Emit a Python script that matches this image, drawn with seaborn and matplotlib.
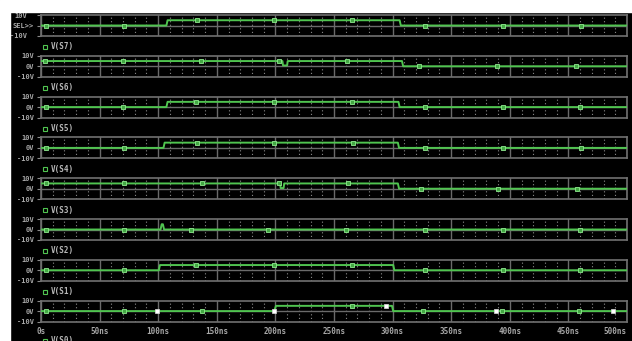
"""Digital simulation traces (PSpice-style probe window), eight stacked waveforms."""

import matplotlib.pyplot as plt
import numpy as np
import seaborn as sns
from matplotlib.lines import Line2D
from matplotlib.patches import Rectangle
from matplotlib.ticker import FixedLocator, MultipleLocator

W, H = 632, 341

TIME_TICKS = [0, 50, 100, 150, 200, 250, 300, 350, 400, 450, 500]
TIME_LABELS = ["0s", "50ns", "100ns", "150ns", "200ns", "250ns",
               "300ns", "350ns", "400ns", "450ns", "500ns"]
VOLT_TICKS = [-10, 0, 10]
VOLT_LABELS = ["-10V", "0V", "10V"]

SIGNALS = ["V(S7)", "V(S6)", "V(S5)", "V(S4)", "V(S3)", "V(S2)", "V(S1)", "V(S0)"]

# breakpoints (ns, V)
S7_T = [0, 107, 108, 306, 307, 500]
S7_V = [0, 0, 5, 5, 0, 0]
S6_T = [0, 206, 206.5, 210, 210.5, 308, 309, 500]
S6_V = [5, 5, 0.8, 0.8, 5, 5, 0, 0]
S5_T = [0, 107, 108, 305, 306, 500]
S5_V = [0, 0, 5, 5, 0, 0]
S4_T = [0, 104.5, 105.5, 304.5, 305.5, 500]
S4_V = [0, 0, 5, 5, 0, 0]
S3_T = [0, 204, 204.5, 207, 207.5, 304.5, 305.5, 500]
S3_V = [5, 5, 0.6, 0.6, 5, 5, 0, 0]
S2_T = [0, 102, 103, 104, 105, 500]
S2_V = [0, 0, 5, 5, 0, 0]
S1_T = [0, 100.5, 101.5, 300.5, 301.5, 500]
S1_V = [0, 0, 5, 5, 0, 0]
S0_T = [0, 199, 200.5, 299.5, 300.5, 500]
S0_V = [0, 0, 5, 5, 0, 0]

# trace symbol positions (ns)
S7_MARKS = [4, 71, 133, 199, 265, 328, 394, 461]
S6_MARKS = [3.5, 70, 136.5, 203, 261, 322.5, 389, 456.5]
S5_MARKS = [4, 70, 132, 199, 265, 328, 394, 460]
S4_MARKS = [4, 71, 133, 199, 266, 328, 394, 461]
S3_MARKS = [4, 71, 137, 203, 262, 324, 390, 457]
S2_MARKS = [4, 71, 128, 194, 260, 328, 394, 460]
S1_MARKS = [4, 71, 132, 199, 265, 328, 394, 460]
S0_MARKS = [4, 71, 137, 265, 326, 393, 459]
S0_CURSORS = [99, 199, 294, 388, 488]

GREEN = "#50c450"
MARK_FACE = "#43a843"
MARK_EDGE = "#8fe88f"
GRID = "#6a6a6a"
TEXT = "#a8a8a8"


def px_box(left, top, right, bottom):
    return [left / W, 1 - bottom / H, (right - left) / W, (bottom - top) / H]


sns.set_theme(style="dark", rc={"axes.facecolor": "black", "figure.facecolor": "black"})
plt.rcParams["font.family"] = ["DejaVu Sans Mono", "DejaVu Sans"]
plt.rcParams["font.weight"] = "bold"

traces = [
    (S7_T, S7_V, S7_MARKS), (S6_T, S6_V, S6_MARKS), (S5_T, S5_V, S5_MARKS),
    (S4_T, S4_V, S4_MARKS), (S3_T, S3_V, S3_MARKS), (S2_T, S2_V, S2_MARKS),
    (S1_T, S1_V, S1_MARKS), (S0_T, S0_V, S0_MARKS),
]

fig = plt.figure(figsize=(W / 100, H / 100), dpi=100)
fig.patch.set_facecolor("black")

for i, (name, (t, v, marks)) in enumerate(zip(SIGNALS, traces)):
    top = 15 + i * 40.8
    ax = fig.add_axes(px_box(41, top, 627, top + 21))
    ax.set_facecolor("black")
    ax.set_axisbelow(True)

    sns.lineplot(x=t, y=v, ax=ax, color=GREEN, lw=1.4, estimator=None, sort=False, zorder=3)
    sns.scatterplot(x=marks, y=np.interp(marks, t, v), ax=ax, marker="s", s=10,
                    color=MARK_FACE, edgecolor=MARK_EDGE, linewidth=0.6, zorder=4)
    if name == "V(S0)":
        sns.scatterplot(x=S0_CURSORS, y=np.interp(S0_CURSORS, t, v), ax=ax, marker="s", s=10,
                        color="white", edgecolor="#dddddd", linewidth=0.5, zorder=5)

    ax.set_xlim(0, 500)
    ax.set_ylim(-10, 10)
    ax.xaxis.set_major_locator(FixedLocator(TIME_TICKS))
    ax.xaxis.set_minor_locator(MultipleLocator(10))
    ax.set_xticklabels(TIME_LABELS)
    ax.set_yticks(VOLT_TICKS)
    ax.set_yticklabels(["-10V", "SEL>>", "10V"] if i == 0 else VOLT_LABELS)
    ax.set_xlabel("")
    ax.set_ylabel("")

    ax.grid(True, which="major", axis="x", color=GRID, lw=1.0)
    ax.grid(True, which="minor", axis="x", color="#8c8c8c", lw=0.8, ls=(0, (1, 2.2)))
    ax.grid(False, axis="y")
    ax.axhline(0, color=GRID, lw=1.0, zorder=1)

    for s in ax.spines.values():
        s.set_color("#707070")
        s.set_linewidth(1.2)

    ax.tick_params(axis="y", left=True, length=3, width=0.8, color="#8a8a8a", pad=2,
                   labelsize=5, labelcolor=TEXT)
    ax.tick_params(axis="x", which="both", bottom=False, length=0, pad=4,
                   labelbottom=(i == len(SIGNALS) - 1), labelsize=5.5, labelcolor=TEXT)
    if i == len(SIGNALS) - 1:
        ax.xaxis.get_major_ticks()[-1].label1.set_horizontalalignment("right")
    if i == 0:
        yt = ax.yaxis.get_major_ticks()
        yt[0].set_pad(7)
        yt[2].set_pad(7)

    # trace legend below each plot (the last one runs off the captured window)
    ly = top + 32 if i < len(SIGNALS) - 1 else 341
    fig.add_artist(Line2D([45 / W], [1 - ly / H], marker="s", ms=3, mfc="none",
                          mec=GREEN, mew=0.8, transform=fig.transFigure))
    fig.text(51 / W, 1 - ly / H, name, color="#b8b8b8", fontsize=5.5, va="center", ha="left")

# white margins of the captured window
fig.patches.append(Rectangle((0, 1 - 12 / H), 1, 12 / H, transform=fig.transFigure,
                             color="white", zorder=10))
fig.patches.append(Rectangle((0, 0), 10 / W, 1, transform=fig.transFigure,
                             color="white", zorder=10))

fig.savefig("out.png", dpi=100, facecolor=fig.get_facecolor())
plt.close(fig)
